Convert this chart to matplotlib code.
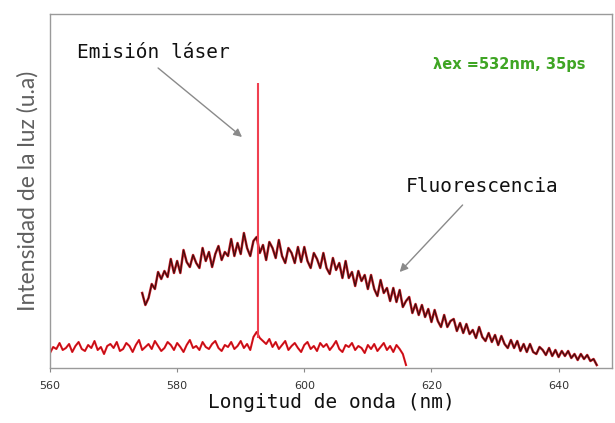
import numpy as np
import matplotlib
matplotlib.use("Agg")
import matplotlib.pyplot as plt

# --- data (intensity in arbitrary units) ---------------------------------
fluo_start, fluo_step = 574.5, 0.5
fluo_vals = [
    75, 63, 70, 84, 79, 96, 89, 97, 91, 109,
    95, 107, 95, 118, 106, 101, 113, 105, 100, 120,
    107, 116, 101, 114, 122, 108, 116, 112, 129, 112,
    125, 114, 135, 120, 112, 127, 131, 115, 123, 108,
    126, 120, 110, 128, 112, 105, 120, 115, 105, 121,
    106, 121, 107, 100, 115, 109, 100, 115, 100, 94,
    110, 98, 105, 90, 107, 90, 96, 82, 97, 87,
    93, 79, 93, 79, 72, 88, 75, 80, 67, 80,
    66, 78, 61, 67, 71, 55, 64, 53, 63, 51,
    59, 46, 58, 47, 41, 53, 41, 47, 49, 37,
    45, 35, 44, 34, 38, 30, 41, 31, 27, 35,
    26, 33, 23, 32, 24, 20, 28, 20, 27, 17,
    24, 16, 24, 16, 14, 21, 18, 13, 20, 12,
    18, 11, 17, 12, 17, 10, 14, 8, 14, 9,
    13, 7, 9, 3,
]

base_start, base_step = 560.0, 0.5
base_vals = [
    15, 21, 19, 25, 18, 20, 24, 16, 22, 26,
    19, 17, 23, 20, 27, 18, 21, 14, 22, 24,
    20, 26, 17, 19, 25, 22, 16, 23, 28, 18,
    21, 24, 19, 27, 22, 17, 20, 26, 23, 18,
    25, 21, 16, 23, 28, 20, 22, 18, 26, 21,
    19, 24, 27, 20, 17, 23, 21, 26, 19, 22,
    27, 20, 24, 18, 31, 36, 30, 27, 24, 29,
    21, 26, 19, 23, 27, 18, 22, 25, 20, 16,
    23, 26, 19, 22, 17, 25, 21, 24, 18, 22,
    27, 19, 16, 23, 21, 25, 18, 22, 20, 15,
    23, 19, 24, 17, 21, 25, 18, 22, 16, 23,
    19, 14, 3,
]

laser_nm = 592.7
laser_foot = 30
laser_top = 285

x_ticks = [560, 580, 600, 620, 640]

fluo_x = fluo_start + fluo_step * np.arange(len(fluo_vals))
base_x = base_start + base_step * np.arange(len(base_vals))

# --- figure ----------------------------------------------------------------
fig = plt.figure(figsize=(6.15, 4.23), dpi=100)
ax = fig.add_axes([50 / 615, 1 - 368 / 423, 562 / 615, 354 / 423])

# fluorescence: red halo with a dark core
ax.plot(fluo_x, fluo_vals, color="#c8202a", linewidth=1.8)
ax.plot(fluo_x, fluo_vals, color="#3a0c0c", linewidth=0.8)

# laser background + emission line
ax.plot(base_x, base_vals, color="#e8141e", linewidth=1.5)
ax.plot(base_x, base_vals, color="#6a1010", linewidth=0.4, alpha=0.6)
ax.vlines(laser_nm, laser_foot, laser_top, color="#f04050", linewidth=1.5)

ax.set_xlim(560, 648.4)
ax.set_ylim(0, 354)
ax.set_xticks(x_ticks)
ax.set_xticklabels([str(t) for t in x_ticks], fontsize=8, color="#333333",
                   family="DejaVu Sans")
ax.tick_params(axis="x", length=3, width=0.8, color="#888888", pad=6)
ax.set_yticks([])
for s in ax.spines.values():
    s.set_color("#9a9a9a")
    s.set_linewidth(1.0)

ax.set_xlabel("Longitud de onda (nm)", family="DejaVu Sans Mono", fontsize=14,
              color="#111111", labelpad=2)
ax.set_ylabel("Intensidad de la luz (u.a)", family="Lato", fontsize=16.5,
              color="#606060", labelpad=8)

arrow = dict(arrowstyle="-|>", color="#8a8a8a", linewidth=1.0,
             mutation_scale=12, shrinkA=0, shrinkB=0)
ax.annotate("", xy=(590.2, 231), xytext=(577.0, 300), arrowprops=arrow)
ax.annotate("", xy=(615.0, 96), xytext=(624.9, 163), arrowprops=arrow)

ax.text(576.3, 315, "Emisión láser", family="DejaVu Sans Mono", fontsize=14,
        ha="center", va="center", color="#111111")
ax.text(627.9, 182, "Fluorescencia", family="DejaVu Sans Mono", fontsize=14,
        ha="center", va="center", color="#111111")
ax.text(632.3, 303, "λex =532nm, 35ps", family="DejaVu Sans", fontsize=10.5,
        fontweight="bold", ha="center", va="center", color="#3fa524")

fig.savefig("out.png", dpi=100, facecolor="white")
